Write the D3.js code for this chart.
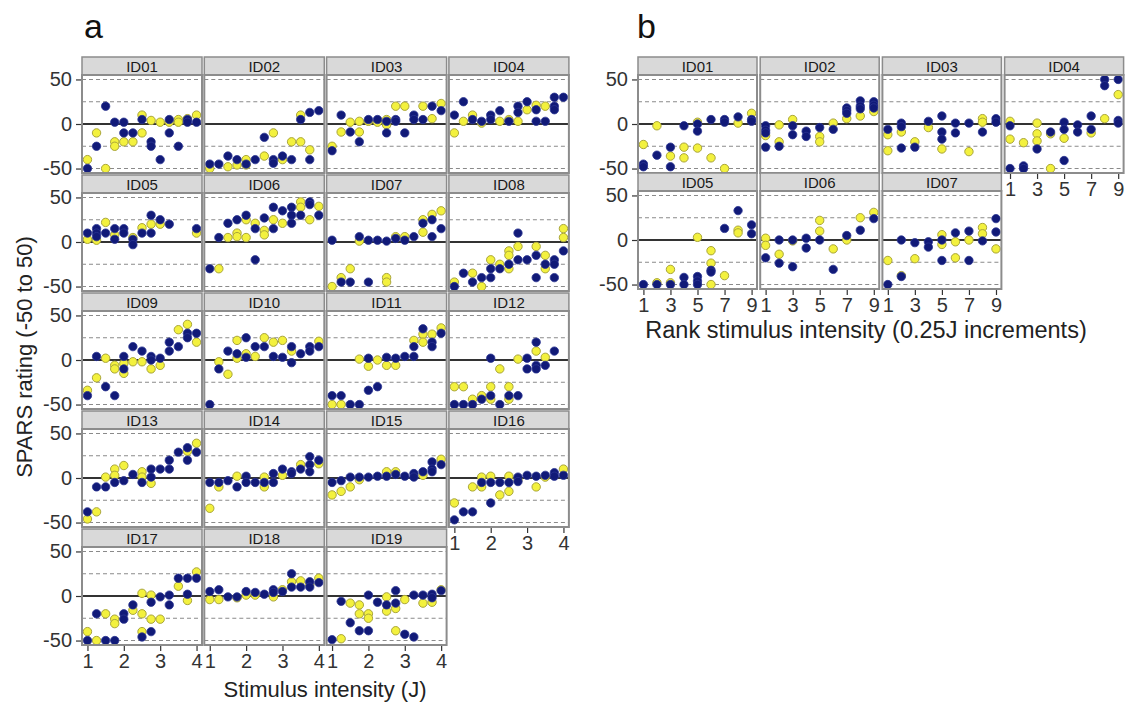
<!DOCTYPE html>
<html>
<head>
<meta charset="utf-8">
<script src="https://cdn.jsdelivr.net/npm/d3@7"></script>
<style>
  body { margin: 0; background: #fff; }
  svg { font-family: "Liberation Sans", Arial, sans-serif; }
</style>
</head>
<body>
<svg id="chart"></svg>
<script>
// ---- panel a : rating vs stimulus intensity (J) ----
const a01Blue = [[1,-50],[1.25,-25],[1.5,20],[1.75,2],[2,2],[2,-10],[2.25,-10],[2.5,5],[2.75,-20],[2.75,-25],[3,-40],[3.25,5],[3.25,-10],[3.5,-25],[3.75,5],[3.75,2],[4,2]];
const a01Yellow = [[1,-40],[1.25,-10],[1.5,-50],[1.75,-20],[1.75,-25],[2,-20],[2.25,-20],[2.5,10],[2.5,-10],[2.75,4],[3,2],[3.25,2],[3.5,5],[3.5,2],[3.75,6],[4,10]];
const a02Blue = [[1,-45],[1.25,-45],[1.5,-36],[1.75,-40],[2,-45],[2.25,-40],[2.5,-15],[2.75,-40],[2.75,-44],[3,-36],[3.25,-40],[3.5,5],[3.75,13],[3.75,-40],[4,15]];
const a02Yellow = [[1,-50],[1.5,-48],[1.75,-46],[2,-40],[2,-46],[2.5,-36],[2.75,-10],[3,-40],[3.25,-20],[3.5,10],[3.5,-20],[3.75,-29]];
const a03Blue = [[1,-30],[1.25,10],[1.5,-9],[1.75,-20],[2,5],[2.25,5],[2.5,-10],[2.5,3],[2.75,5],[2.75,3],[3,-10],[3.25,10],[3.25,5],[3.5,5],[3.75,20],[4,15]];
const a03Yellow = [[1,-25],[1.25,-9],[1.5,2],[1.75,3],[1.75,-9],[2,3],[2.25,2],[2.5,5],[2.5,-1],[2.75,20],[3,20],[3.5,20],[3.75,6],[4,23]];
const a04Blue = [[1,10],[1.25,25],[1.5,5],[1.75,3],[2,10],[2,5],[2.25,15],[2.5,3],[2.75,20],[2.75,13],[3,25],[3.25,16],[3.25,3],[3.5,3],[3.75,30],[3.75,20],[3.75,16],[4,30]];
const a04Yellow = [[1,-10],[1.25,3],[1.5,10],[1.75,1],[2.25,3],[2.5,5],[2.75,3],[3,16],[3.25,21],[3.5,20]];
const a05Blue = [[1,10],[1.25,15],[1.25,10],[1.25,6],[1.5,10],[1.75,15],[1.75,3],[2,15],[2,10],[2.25,3],[2.25,-3],[2.5,10],[2.75,30],[2.75,10],[3,25],[3.25,20],[4,15]];
const a05Yellow = [[1,3],[1.25,2],[1.5,22],[1.75,8],[2.25,5],[2.5,16],[2.75,20],[3,20],[4,10]];
const a06Blue = [[1,-30],[1.25,5],[1.5,21],[1.75,25],[2,30],[2.25,15],[2.25,-20],[2.5,27],[2.75,39],[2.75,15],[3,35],[3.25,39],[3.25,30],[3.25,21],[3.5,30],[3.75,45],[3.75,42],[4,30]];
const a06Yellow = [[1.25,-30],[1.5,5],[1.75,10],[1.75,6],[2,25],[2,5],[2.25,21],[2.5,13],[2.5,8],[2.75,25],[3,21],[3.5,45],[3.5,39],[3.75,25],[4,40]];
const a07Blue = [[1,2],[1.25,-45],[1.5,-45],[1.75,6],[2,2],[2,-45],[2.25,2],[2.5,1],[2.75,4],[3,2],[3.25,6],[3.5,21],[3.75,25],[3.75,6],[4,15]];
const a07Yellow = [[1,-50],[1.25,-40],[1.5,-30],[1.75,1],[2.5,-40],[2.5,-45],[2.75,6],[3,6],[3.5,25],[3.5,11],[3.75,31],[4,35]];
const a08Blue = [[1,-50],[1.25,-35],[1.5,-45],[1.75,-40],[2,-30],[2,-40],[2.25,-30],[2.5,-25],[2.75,10],[2.75,-20],[3,-20],[3.25,-15],[3.25,-40],[3.5,-25],[3.75,-20],[3.75,-25],[3.75,-40],[4,-10]];
const a08Yellow = [[1,-45],[1.5,-35],[1.75,-50],[2,-20],[2.25,-25],[2.5,-10],[2.5,-15],[2.5,-30],[2.75,-5],[3.25,-5],[3.5,-15],[3.5,-30],[4,15],[4,5]];
const a09Blue = [[1,-40],[1.25,4],[1.5,-30],[1.75,-40],[2,4],[2,-10],[2.25,15],[2.5,10],[2.75,4],[2.75,0],[3,2],[3.25,20],[3.25,10],[3.5,15],[3.75,30],[3.75,25],[4,30]];
const a09Yellow = [[1,-34],[1.25,-20],[1.5,2],[1.75,-6],[1.75,-10],[2,-15],[2,-4],[2.25,-2],[2.5,-2],[2.75,-10],[3,-6],[3.5,34],[3.75,40],[4,20]];
const a10Blue = [[1,-50],[1.25,-10],[1.5,10],[1.75,7],[2,25],[2,3],[2.25,15],[2.5,15],[2.75,4],[3,3],[3.25,15],[3.25,-3],[3.5,7],[3.75,15],[3.75,10],[4,15]];
const a10Yellow = [[1.25,-2],[1.5,-16],[1.75,22],[1.75,2],[2,7],[2.25,4],[2.5,25],[2.75,20],[3,22],[3.25,10],[4,21]];
const a11Blue = [[1,-40],[1.25,-40],[1.5,-50],[1.75,-50],[2,2],[2,-34],[2.25,-30],[2.5,3],[2.75,2],[3,4],[3.25,4],[3.25,15],[3.5,35],[3.75,20],[3.75,15],[4,30]];
const a11Yellow = [[1,-50],[1.25,-50],[1.75,1],[2,-7],[2.25,0],[2.5,-6],[2.75,-6],[3.25,22],[3.5,29],[3.5,20],[3.75,29],[4,36]];
const a12Blue = [[1,-50],[1.25,-50],[1.5,-50],[1.75,-44],[2,2],[2,-40],[2.25,-50],[2.5,-40],[2.75,-40],[3,2],[3,-10],[3.25,20],[3.25,-6],[3.25,-10],[3.5,-6],[3.75,10]];
const a12Yellow = [[1,-30],[1.25,-30],[1.5,-44],[1.75,-40],[2,-30],[2,-44],[2.25,-10],[2.5,-30],[2.5,-44],[2.75,1],[3.25,10],[3.5,3]];
const a13Blue = [[1,-38],[1.25,-10],[1.5,-10],[1.75,-5],[2,-3],[2.25,4],[2.5,-5],[2.75,10],[2.75,1],[3,10],[3.25,20],[3.25,10],[3.5,29],[3.75,34],[3.75,20],[4,29]];
const a13Yellow = [[1,-46],[1.25,-38],[1.5,1],[1.75,10],[1.75,3],[2,14],[2.5,7],[2.5,1],[2.75,-6],[3.75,30],[4,39]];
const a14Blue = [[1,-5],[1.25,-5],[1.5,-3],[1.75,-10],[2,2],[2,-5],[2.25,-5],[2.5,-5],[2.75,5],[2.75,-5],[3,10],[3.25,7],[3.25,5],[3.5,10],[3.75,24],[3.75,15],[3.75,7],[4,20]];
const a14Yellow = [[1,-34],[1.25,-10],[1.75,2],[2.5,1],[2.5,-10],[3,3],[3.5,15],[4,16]];
const a15Blue = [[1,-5],[1.25,-3],[1.5,1],[1.75,1],[2,1],[2.25,2],[2.5,2],[2.75,4],[3,2],[3.25,5],[3.25,1],[3.5,7],[3.75,18],[3.75,10],[3.75,7],[4,15]];
const a15Yellow = [[1,-19],[1.25,-15],[1.5,-10],[1.75,-2],[2.5,7],[2.75,7],[3.5,3],[4,21]];
const a16Blue = [[1,-47],[1.25,-38],[1.5,-38],[1.75,-5],[2,-28],[2,-5],[2.25,-5],[2.5,-5],[2.75,1],[2.75,-4],[3,3],[3.25,2],[3.5,3],[3.75,6],[3.75,2],[4,3]];
const a16Yellow = [[1,-28],[1.5,-10],[1.75,1],[1.75,-10],[2,2],[2.25,-19],[2.5,2],[2.5,-15],[2.75,-2],[3.25,-10],[3.5,1],[4,10]];
const a17Blue = [[1,-50],[1.25,-20],[1.5,-50],[1.75,-50],[2,-20],[2,-26],[2.25,-10],[2.5,-46],[2.75,-7],[2.75,-40],[3,-1],[3.25,1],[3.25,-10],[3.5,20],[3.75,20],[3.75,2],[4,20]];
const a17Yellow = [[1,-40],[1.25,-50],[1.5,-20],[1.75,-26],[1.75,-31],[2.25,-16],[2.5,3],[2.5,-20],[2.5,-40],[2.75,1],[2.75,-26],[3,-26],[3.5,11],[3.75,-5],[4,27]];
const a18Blue = [[1,5],[1.25,7],[1.5,-1],[1.75,-1],[2,5],[2.25,4],[2.5,2],[2.75,7],[2.75,4],[3,5],[3.25,25],[3.25,10],[3.5,10],[3.75,16],[3.75,10],[4,15]];
const a18Yellow = [[1,-4],[1.25,-4],[1.75,-2],[2,1],[2.25,1],[2.75,-1],[3,7],[3.25,16],[3.5,17],[3.75,13],[4,20]];
const a19Blue = [[1,-49],[1.25,-6],[1.5,-30],[1.75,-39],[2,1],[2,-39],[2.25,-7],[2.5,-10],[2.75,6],[2.75,-8],[3,-43],[3.25,1],[3.25,-46],[3.5,1],[3.75,2],[3.75,-2],[4,6]];
const a19Yellow = [[1.25,-48],[1.5,-8],[1.75,-10],[1.75,-20],[2,-20],[2,-25],[2.5,-1],[2.5,-17],[2.75,-14],[2.75,-39],[3,-4],[3.5,-8],[3.75,-7],[4,7]];

// ---- panel b : rating vs rank stimulus intensity ----
const b01Blue = [[1,-45],[1,-48],[2,-35],[3,-26],[3,-48],[4,-2],[5,0],[5,-8],[6,5],[7,5],[7,2],[8,8],[9,5],[9,3]];
const b01Yellow = [[1,-23],[2,-2],[3,-36],[4,-26],[4,-38],[5,2],[5,-27],[6,-38],[7,-50],[8,1],[9,12]];
const b02Blue = [[1,-2],[1,-7],[1,-10],[1,-26],[2,-25],[3,-2],[3,-12],[4,-8],[4,-14],[5,-4],[6,-6],[7,18],[7,15],[7,12],[8,26],[8,20],[8,17],[9,25],[9,21],[9,18]];
const b02Yellow = [[1,-13],[2,-1],[2,-20],[3,5],[5,-14],[5,-20],[6,1],[7,6],[8,9],[9,14]];
const b03Blue = [[1,-6],[2,1],[2,-3],[2,-27],[3,-26],[4,3],[5,9],[5,-9],[5,-17],[6,1],[6,-10],[7,1],[8,-9],[9,6],[9,2]];
const b03Yellow = [[1,-12],[1,-30],[2,-9],[3,-20],[4,-4],[5,-28],[7,-31],[8,6],[8,2]];
const b04Blue = [[1,-2],[1,-50],[2,-47],[2,-50],[3,-28],[4,-9],[5,2],[5,-6],[5,-41],[6,-1],[6,-9],[7,9],[7,-6],[8,50],[8,43],[9,50],[9,4],[9,1]];
const b04Yellow = [[1,3],[1,-17],[2,-21],[3,1],[3,-11],[3,-19],[4,-11],[4,-50],[5,-16],[7,-10],[8,6],[9,33]];
const b05Blue = [[1,-50],[2,-50],[3,-50],[4,-42],[4,-50],[5,-41],[5,-46],[5,-50],[6,-34],[6,-36],[7,13],[8,33],[9,17],[9,7]];
const b05Yellow = [[2,-48],[3,-33],[3,-48],[5,3],[6,-12],[6,-26],[6,-50],[7,-40],[8,11],[8,8]];
const b06Blue = [[1,-20],[2,0],[2,-26],[3,0],[3,-30],[4,2],[4,-9],[5,0],[6,-33],[7,5],[8,11],[9,24]];
const b06Yellow = [[1,2],[1,-6],[2,-16],[3,-1],[5,22],[5,10],[6,-10],[7,0],[8,25],[9,31]];
const b07Blue = [[1,-50],[2,0],[2,-41],[3,-3],[4,-2],[4,-8],[5,0],[5,-23],[6,8],[7,10],[7,-23],[8,-1],[9,24],[9,9]];
const b07Yellow = [[1,-23],[2,-40],[3,-21],[5,6],[5,-5],[6,-2],[6,-20],[7,0],[8,14],[8,7],[9,-10]];

const idsA = ["ID01","ID02","ID03","ID04","ID05","ID06","ID07","ID08","ID09","ID10","ID11","ID12","ID13","ID14","ID15","ID16","ID17","ID18","ID19"];
const blueA = [a01Blue,a02Blue,a03Blue,a04Blue,a05Blue,a06Blue,a07Blue,a08Blue,a09Blue,a10Blue,a11Blue,a12Blue,a13Blue,a14Blue,a15Blue,a16Blue,a17Blue,a18Blue,a19Blue];
const yellowA = [a01Yellow,a02Yellow,a03Yellow,a04Yellow,a05Yellow,a06Yellow,a07Yellow,a08Yellow,a09Yellow,a10Yellow,a11Yellow,a12Yellow,a13Yellow,a14Yellow,a15Yellow,a16Yellow,a17Yellow,a18Yellow,a19Yellow];
const idsB = ["ID01","ID02","ID03","ID04","ID05","ID06","ID07"];
const blueB = [b01Blue,b02Blue,b03Blue,b04Blue,b05Blue,b06Blue,b07Blue];
const yellowB = [b01Yellow,b02Yellow,b03Yellow,b04Yellow,b05Yellow,b06Yellow,b07Yellow];

const yTicks = [-50, 0, 50];
const refLines = [-50, -25, 25, 50];
const xTicksA = [1, 2, 3, 4];
const xTicksB = [1, 3, 5, 7, 9];

const width = 1127, height = 703;
const svg = d3.select("#chart").attr("width", width).attr("height", height);
svg.append("rect").attr("width", width).attr("height", height).attr("fill", "#fff");

const BLUE = "#111a78", YELLOW = "#f3f13e";

function facetGrid(cfg, ids, blues, yellows) {
  const n = ids.length;
  ids.forEach((id, i) => {
    const row = Math.floor(i / cfg.cols), col = i % cfg.cols;
    const left = cfg.left + col * cfg.colPitch;
    const stripTop = cfg.top + row * cfg.rowPitch;
    const top = stripTop + cfg.stripH;
    const g = svg.append("g");

    const x = d3.scaleLinear().domain(cfg.xDomain).range([left, left + cfg.panelW]);
    const y = d3.scaleLinear().domain([-55, 55]).range([top + cfg.panelH, top]);

    // strip
    g.append("rect").attr("x", left).attr("y", stripTop)
      .attr("width", cfg.panelW).attr("height", cfg.stripH)
      .attr("fill", "#d9d9d9").attr("stroke", "#8c8c8c").attr("stroke-width", 1.5);
    g.append("text").attr("x", left + cfg.panelW / 2).attr("y", stripTop + cfg.stripH / 2 + 5.5)
      .attr("text-anchor", "middle").attr("font-size", 15).attr("fill", "#1a1a1a").text(id);

    // reference lines
    g.selectAll(".ref").data(refLines).join("line")
      .attr("x1", left).attr("x2", left + cfg.panelW)
      .attr("y1", d => y(d)).attr("y2", d => y(d))
      .attr("stroke", "#8a8a8a").attr("stroke-width", 1.1).attr("stroke-dasharray", "4,3");
    g.append("line").attr("x1", left).attr("x2", left + cfg.panelW)
      .attr("y1", y(0)).attr("y2", y(0)).attr("stroke", "#333").attr("stroke-width", 2);

    // points
    g.selectAll(".py").data(yellows[i]).join("circle")
      .attr("cx", d => x(d[0])).attr("cy", d => y(d[1])).attr("r", 4.2)
      .attr("fill", YELLOW).attr("stroke", "#a9a53a").attr("stroke-width", 1);
    g.selectAll(".pb").data(blues[i]).join("circle")
      .attr("cx", d => x(d[0])).attr("cy", d => y(d[1])).attr("r", 4.2)
      .attr("fill", BLUE).attr("stroke", "#2b3592").attr("stroke-width", 0.8);

    // panel border
    g.append("rect").attr("x", left).attr("y", top)
      .attr("width", cfg.panelW).attr("height", cfg.panelH)
      .attr("fill", "none").attr("stroke", "#8c8c8c").attr("stroke-width", 2);

    // y axis on first column
    if (col === 0) {
      const ya = svg.append("g").attr("transform", `translate(${left - 1},0)`)
        .call(d3.axisLeft(y).tickValues(yTicks).tickFormat(d => String(d)).tickSize(5).tickPadding(4));
      ya.select(".domain").remove();
      ya.selectAll("line").attr("stroke", "#333").attr("stroke-width", 1.2);
      ya.selectAll("text").attr("font-size", 20).attr("fill", "#333")
        .attr("font-family", "Liberation Sans, Arial, sans-serif");
    }
    // x axis on last panel of each column
    if (i + cfg.cols >= n) {
      const xa = svg.append("g").attr("transform", `translate(0,${top + cfg.panelH + 1})`)
        .call(d3.axisBottom(x).tickValues(cfg.xTicks).tickFormat(d => String(d)).tickSize(5).tickPadding(3));
      xa.select(".domain").remove();
      xa.selectAll("line").attr("stroke", "#333").attr("stroke-width", 1.2);
      xa.selectAll("text").attr("font-size", 20).attr("fill", "#333")
        .attr("font-family", "Liberation Sans, Arial, sans-serif");
    }
  });
}

facetGrid({ left: 82, top: 57, cols: 4, colPitch: 122.3, rowPitch: 118, stripH: 18, panelW: 120, panelH: 98,
  xDomain: [0.85, 4.15], xTicks: xTicksA }, idsA, blueA, yellowA);
facetGrid({ left: 638, top: 57, cols: 4, colPitch: 122.2, rowPitch: 116, stripH: 18, panelW: 119, panelH: 98,
  xDomain: [0.6, 9.4], xTicks: xTicksB }, idsB, blueB, yellowB);

// titles
svg.append("text").attr("x", 84).attr("y", 38).attr("font-size", 34).attr("fill", "#111").text("a");
svg.append("text").attr("x", 637).attr("y", 38).attr("font-size", 34).attr("fill", "#111").text("b");

svg.append("text").attr("x", 325).attr("y", 697).attr("text-anchor", "middle")
  .attr("font-size", 22).attr("fill", "#222").text("Stimulus intensity (J)");
svg.append("text").attr("x", 866).attr("y", 338).attr("text-anchor", "middle")
  .attr("font-size", 23.5).attr("fill", "#222").text("Rank stimulus intensity (0.25J increments)");
svg.append("text").attr("transform", "translate(32,357) rotate(-90)").attr("text-anchor", "middle")
  .attr("font-size", 22).attr("fill", "#222").text("SPARS rating (-50 to 50)");
</script>
</body>
</html>
